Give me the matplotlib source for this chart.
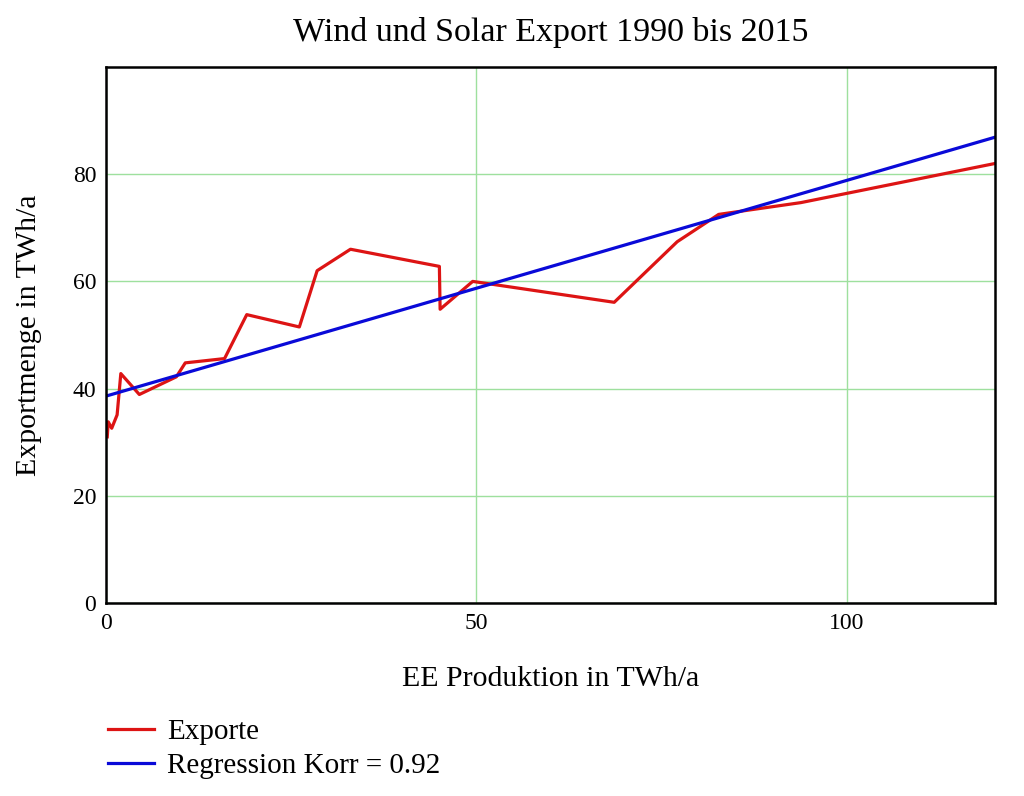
import numpy as np
import matplotlib
matplotlib.use("Agg")
import matplotlib.pyplot as plt

# Exporte vs. EE Produktion
ee_prod = [0.17, 0.3, 0.77, 1.5, 2.0, 4.5, 9.5, 10.7, 16.0, 19.0, 26.1, 28.5,
           33.0, 45.0, 45.1, 49.5, 68.6, 77.1, 82.7, 93.8, 120.0]
exporte = [31.0, 33.8, 32.6, 35.1, 42.8, 38.9, 42.2, 44.8, 45.6, 53.8, 51.5, 62.0,
           66.0, 62.8, 54.8, 60.0, 56.1, 67.4, 72.5, 74.7, 82.0]

# regression line y = a + b*x
reg_a = 38.6
reg_b = 0.4025
reg_x = [0, 120]

xticks = [0, 50, 100]
yticks = [0, 20, 40, 60, 80]

plt.rcParams['font.family'] = ['Liberation Serif', 'DejaVu Serif']

fig = plt.figure(figsize=(10.24, 7.96), dpi=100)
ax = fig.add_axes([106/1024, 1 - 603/796, (995-106)/1024, (603-67)/796])

ax.plot(ee_prod, exporte, color='#dd1414', lw=2.3, label='Exporte')
rx = np.array(reg_x, dtype=float)
ax.plot(rx, reg_a + reg_b*rx, color='#0a0ad8', lw=2.3, label='Regression Korr = 0.92')

ax.set_xlim(0, 120)
ax.set_ylim(0, 100)
ax.set_xticks(xticks)
ax.set_yticks(yticks)
ax.grid(True, color='#9ee09e', lw=1)
ax.set_axisbelow(True)
ax.tick_params(length=0, labelsize=17, pad=7)
for s in ax.spines.values():
    s.set_linewidth(1.8)

ax.set_title('Wind und Solar Export 1990 bis 2015', fontsize=24.5, pad=19)
ax.set_xlabel('EE Produktion in TWh/a', fontsize=21.5, labelpad=23)
ax.set_ylabel('Exportmenge in TWh/a', fontsize=21.5, labelpad=22)

h, l = ax.get_legend_handles_labels()
fig.legend(h, l, loc='upper left', bbox_to_anchor=(96/1024, 1 - 707/796),
           frameon=False, fontsize=21, handlelength=1.6, handletextpad=0.45,
           labelspacing=0.27, borderaxespad=0)

fig.savefig('out.png', dpi=100)
